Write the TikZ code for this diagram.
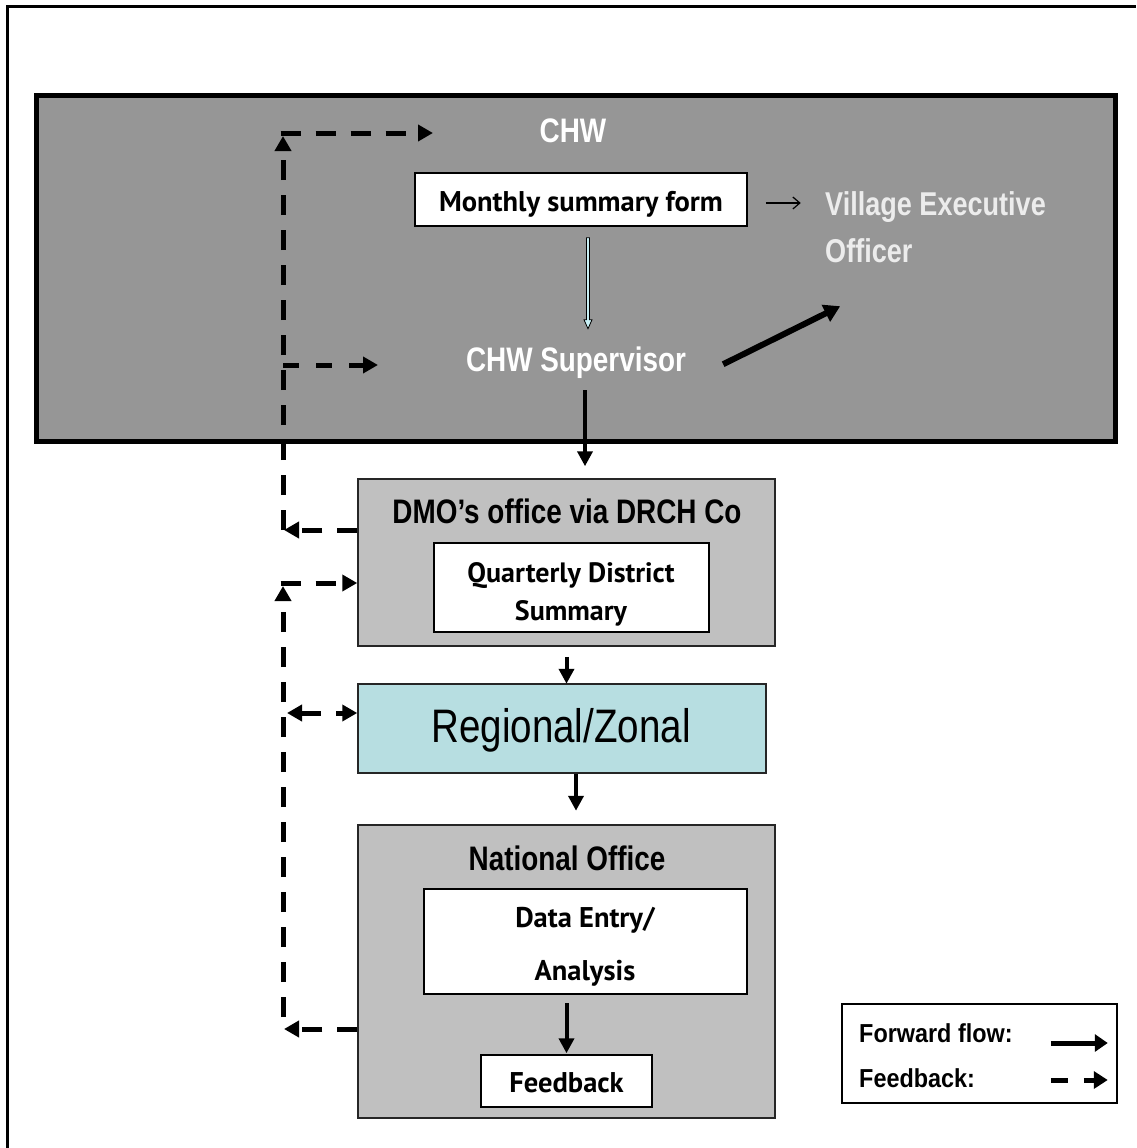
\documentclass[tikz,border=0pt]{standalone}
\usepackage{fontspec}
\usetikzlibrary{arrows.meta,calc}
\newfontfamily\narrow[FakeStretch=0.82]{Liberation Sans}
\newfontfamily\legfont[FakeStretch=0.9]{Liberation Sans}
\newfontfamily\hum{PT Sans}
\definecolor{darkgrey}{RGB}{150,150,150}
\definecolor{lightgrey}{RGB}{192,192,192}
\definecolor{regblue}{RGB}{183,222,225}
\definecolor{offwhite}{RGB}{236,236,236}
\definecolor{hollowfill}{RGB}{200,240,245}
\begin{document}
\begin{tikzpicture}[x=1pt,y=-1pt,
  wtitle/.style={inner sep=0pt, text=white, font=\narrow\bfseries\fontsize{34}{40}\selectfont},
  ktitle/.style={inner sep=0pt, text=black, font=\narrow\bfseries\fontsize{34}{40}\selectfont},
  humtext/.style={inner sep=0pt, align=center},
  whitebox/.style={draw=black, line width=1.5pt, fill=white, inner sep=0pt},
  greybox/.style={draw=black!85, line width=1.5pt, fill=lightgrey, inner sep=0pt},
  fwd/.style={line width=4pt, -{Triangle[length=15pt,width=15pt]}},
  fbk/.style={line width=5pt, dash pattern=on 20pt off 15pt, -{Triangle[length=15pt,width=16pt]}},
]
\useasboundingbox (0,0) rectangle (1136,1148);
\fill[white] (0,0) rectangle (1136,1148);
\draw[line width=2.5pt] (7.5,1148) -- (7.5,6.5) -- (1136,6.5);

% top grey region
\node[draw=black, line width=5pt, fill=darkgrey, minimum width=1079pt, minimum height=346pt, inner sep=0pt] (chwbox) at (576,268.5) {};
\node[wtitle, anchor=base] (chw) at (573,142) {CHW};
\node[whitebox, minimum width=332pt, minimum height=53pt] (msf) at (581,199.5) {};
\node[humtext, anchor=base, font=\hum\bfseries\fontsize{28.5}{34}\selectfont] (msft) at (581,211) {Monthly summary form};
\node[inner sep=0pt, text=offwhite, anchor=base west, align=left, font=\narrow\bfseries\fontsize{33}{47}\selectfont] (veo) at (825,262) {Village Executive\\Officer};
\node[wtitle, anchor=base] (sup) at (576,371) {CHW Supervisor};

% DMO
\node[greybox, minimum width=417pt, minimum height=167pt] (dmo) at (566.5,562.5) {};
\node[ktitle, anchor=base] (dmot) at (567,523) {DMO’s office via DRCH Co};
\node[whitebox, minimum width=275pt, minimum height=89pt] (qds) at (571.5,587.5) {};
\node[humtext, anchor=base, font=\hum\bfseries\fontsize{28}{38}\selectfont] (qdst) at (571,620) {Quarterly District\\Summary};

% Regional
\node[draw=black!85, line width=1.5pt, fill=regblue, minimum width=408pt, minimum height=89pt, inner sep=0pt] (reg) at (562,728.5) {};
\node[inner sep=0pt, anchor=base, font=\narrow\fontsize{47}{50}\selectfont] (regt) at (561,742) {Regional/Zonal};

% National
\node[greybox, minimum width=417pt, minimum height=293pt] (nat) at (566.5,971.5) {};
\node[ktitle, anchor=base] (natt) at (567,870) {National Office};
\node[whitebox, minimum width=323pt, minimum height=105pt] (de) at (585.5,941.5) {};
\node[humtext, anchor=base, font=\hum\bfseries\fontsize{28.5}{53}\selectfont] (det) at (585,980) {Data Entry/\\Analysis};
\node[whitebox, minimum width=171pt, minimum height=52pt] (fb) at (566.5,1081) {};
\node[humtext, anchor=base, font=\hum\bfseries\fontsize{28.5}{32}\selectfont] (fbt) at (566.5,1092) {Feedback};

% Legend
\node[draw=black, line width=1.5pt, fill=white, minimum width=275pt, minimum height=99pt, inner sep=0pt] (leg) at (979.5,1053.5) {};
\node[inner sep=0pt, anchor=base west, font=\legfont\bfseries\fontsize{26}{28}\selectfont] (legf) at (859,1042) {Forward flow:};
\node[inner sep=0pt, anchor=base west, font=\legfont\bfseries\fontsize{26}{28}\selectfont] (legb) at (859,1087) {Feedback:};
\draw[line width=5pt, -{Triangle[length=13pt,width=17pt]}] ($(leg.east)+(-67,-10.5)$) -- ($(leg.east)+(-10,-10.5)$);
\draw[line width=5pt, dash pattern=on 17pt off 16pt, -{Triangle[length=14pt,width=17pt]}] ($(leg.east)+(-67,26.5)$) -- ($(leg.east)+(-10,26.5)$);

% forward flow connectors
\draw[line width=1.2pt, -{Straight Barb[length=7pt,width=12pt]}] ($(msf.east)+(18,3.5)$) -- ($(msf.east)+(53,3.5)$);
\filldraw[fill=hollowfill, draw=black, line width=0.8pt] ($(msf.south)+(5.5,11)$) -- ++(3,0) -- ++(0,82) -- ++(2.5,0) -- ++(-4,9) -- ++(-4,-9) -- ++(2.5,0) -- cycle;
\draw[line width=6pt, -{Triangle[length=16pt,width=18pt]}] ($(sup.east)+(37,2)$) -- ($(sup.east)+(154,-56)$);
\draw[fwd] ($(dmo.north)+(18.5,-88)$) -- ($(dmo.north)+(18.5,-12)$);
\draw[fwd] ($(dmo.south)+(0,10)$) -- ($(dmo.south)+(0,37)$);
\draw[fwd] ($(reg.south)+(14,0)$) -- ($(reg.south)+(14,37)$);
\draw[fwd] ($(fb.north)+(0,-51)$) -- ($(fb.north)+(0,-1)$);

% feedback connectors, upper loop
\coordinate (cA) at (283,530);
\coordinate (cB) at (283,133);
\coordinate (cT) at (433,133);
\coordinate (cS) at (378,365);
\draw[fbk] ($(dmo.west)+(0,-32.5)$) -- ($(cA)+(1,0)$);
\draw[fbk] (cA) -- ($(cB)+(0,3)$);
\draw[fbk] ($(cB)+(-2.5,0)$) -- (cT);
\draw[fbk, dash pattern=on 16pt off 17pt] (283,365) -- (cS);

% feedback connectors, lower loop
\coordinate (cC) at (283,1029);
\coordinate (cD) at (283,583);
\draw[fbk] ($(nat.west)+(0,57.5)$) -- ($(cC)+(1,0)$);
\draw[fbk] ($(cC)+(0,-12)$) -- ($(cD)+(0,3)$);
\draw[fbk] ($(cD)+(-2.5,0)$) -- ($(dmo.west)+(0,20.5)$);
\draw[fbk, {Triangle[length=15pt,width=16pt]}-{Triangle[length=15pt,width=16pt]}] (287,713) -- ($(reg.west)+(0,-15.5)$);
\end{tikzpicture}
\end{document}
